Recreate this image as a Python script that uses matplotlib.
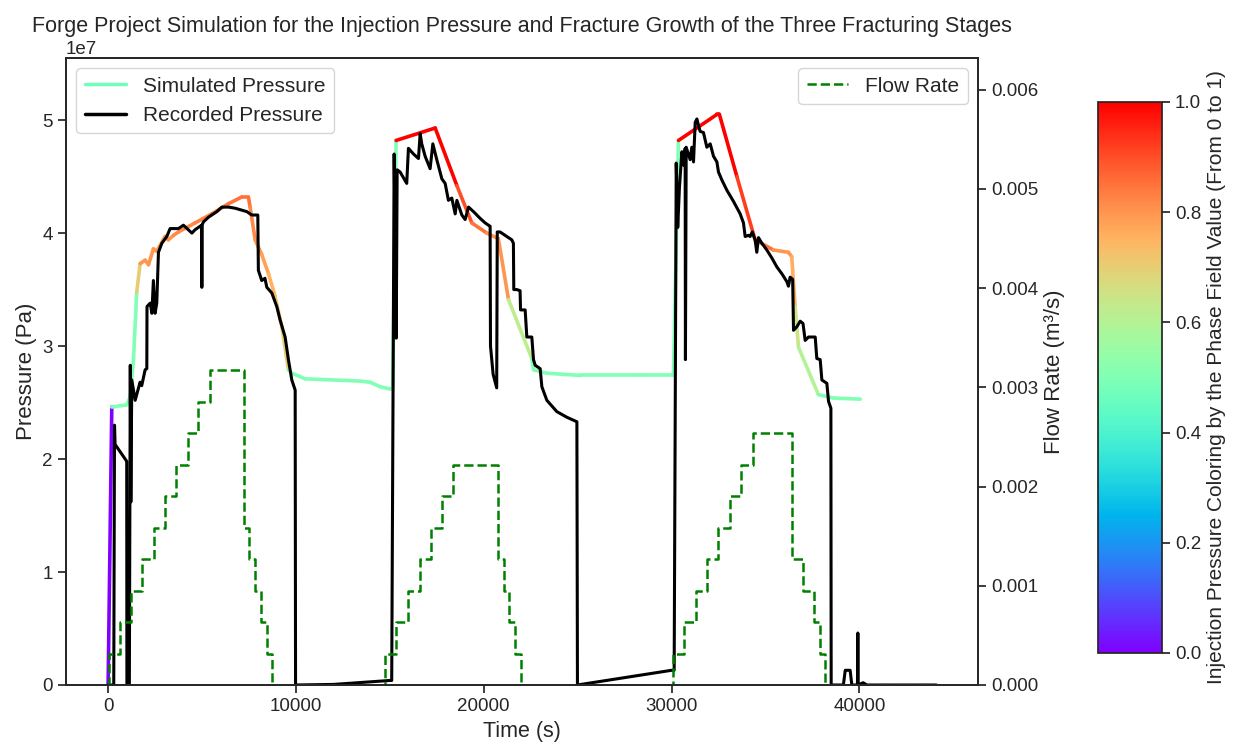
import numpy as np
import matplotlib.pyplot as plt
import seaborn as sns
from matplotlib.collections import LineCollection
from matplotlib.lines import Line2D
from matplotlib.cm import ScalarMappable

sns.set_theme(style="ticks")
plt.rcParams['font.family'] = ['Liberation Sans', 'DejaVu Sans']

# simulated pressure (1e6 Pa) with phase field value at each point
sim_time = [0, 195, 995, 1170, 1350, 1525, 1705, 1970, 2150, 2410, 2590, 3035, 3210, 3480,
            3745, 4630, 5520, 6410, 7120, 7470, 7560, 7830, 8180, 8540, 8890, 9250, 9600,
            9780, 10490, 13420, 13950, 14485, 15015, 15150, 15335, 17415, 18570, 19365,
            20165, 20780, 21320, 22560, 22650, 23360, 25135, 28330, 30100, 30370, 32415,
            32550, 33480, 34450, 35430, 36225, 36400, 36580, 36760, 37820, 38620, 40045]
sim_press = [0, 24.6, 24.8, 25.5, 28.8, 34.8, 37.3, 37.6, 37.2, 38.6, 38.4, 39.7, 39.4, 39.8,
             40.1, 40.9, 41.7, 42.6, 43.2, 43.2, 42.3, 39.4, 38.1, 36.4, 34.4, 31.7, 27.9,
             27.6, 27.1, 26.9, 26.8, 26.4, 26.2, 26.3, 48.2, 49.3, 44.2, 40.9,
             40.0, 39.5, 34.1, 28.9, 27.9, 27.6, 27.4, 27.4, 27.4, 48.2, 50.5,
             50.5, 45.0, 39.4, 38.5, 38.3, 37.9, 33.5, 29.9, 25.7, 25.4, 25.3]
sim_phase = [0.0, 0.5, 0.5, 0.5, 0.5, 0.7, 0.8, 0.8, 0.8, 0.8, 0.8, 0.8, 0.8, 0.82,
             0.82, 0.83, 0.84, 0.85, 0.85, 0.85, 0.82, 0.8, 0.78, 0.75, 0.72, 0.7, 0.5,
             0.5, 0.5, 0.5, 0.5, 0.5, 0.5, 0.5, 1.0, 1.0, 0.9, 0.85,
             0.8, 0.8, 0.62, 0.5, 0.5, 0.5, 0.5, 0.5, 0.5, 1.0, 1.0,
             1.0, 0.92, 0.85, 0.8, 0.8, 0.76, 0.65, 0.6, 0.5, 0.5, 0.5]

# recorded pressure (1e6 Pa)
rec_time = [0, 300, 340, 370, 990, 1000, 1130, 1180, 1210, 1260, 1440, 1700, 1790, 1970, 2060,
            2070, 2240, 2330, 2410, 2500, 2590, 2680, 2860, 3125, 3300, 3745, 4010, 4460,
            4630, 4980, 4990, 5000, 5080, 5340, 5790, 6055, 6410, 6765, 7385, 7650, 7970,
            8000, 8180, 8350, 8450, 8715, 8980, 9160, 9425, 9600, 9780, 9960, 9980, 12000,
            15000, 15100, 15230, 15340, 15390, 15550, 15900, 15990, 16260, 16525, 16615,
            16700, 16880, 17145, 17290, 17500, 17770, 17945, 18120, 18300, 18480, 18570,
            18835, 19010, 19190, 19455, 19810, 20075, 20340, 20360, 20500, 20690, 20720,
            20870, 21140, 21495, 21580, 21600, 21760, 21935, 21960, 22205, 22295, 22560,
            22650, 22740, 23005, 23095, 23360, 23890, 24425, 24960, 24990, 30000, 30140,
            30250, 30330, 30420, 30550, 30650, 30725, 30740, 30780, 30990, 31080, 31170,
            31260, 31350, 31440, 31525, 31700, 31880, 32060, 32235, 32415, 32500, 32680,
            32945, 33300, 33655, 33830, 33920, 34100, 34185, 34300, 34450, 34540, 34630,
            34810, 35075, 35340, 35610, 35875, 36140, 36225, 36315, 36450, 36495, 36670,
            36850, 37000, 37115, 37295, 37650, 37735, 37915, 38005, 38270, 38360, 38485,
            38500, 39150, 39250, 39510, 39600, 39900, 39920, 39940, 40200, 40400, 44100]
rec_press = [0, 0, 23.0, 21.3, 19.8, 0, 0, 28.3, 16.2, 27.0, 25.2, 26.8, 26.5, 27.9, 28.0,
             33.5, 33.8, 32.9, 35.8, 32.9, 33.8, 38.3, 39.1, 39.7, 40.4, 40.4, 40.7, 40.0,
             40.3, 40.7, 35.2, 40.7, 41.0, 41.4, 41.9, 42.3, 42.3, 42.2, 41.9, 41.6, 41.6,
             36.7, 35.8, 36.0, 35.2, 34.7, 33.5, 32.3, 30.8, 28.8, 27.0, 26.1, 0, 0.05,
             0.4, 0.4, 47.0, 30.7, 45.6, 45.4, 44.4, 47.5, 47.0, 46.6, 48.8,
             47.9, 46.8, 45.7, 47.9, 46.5, 44.8, 44.4, 42.9, 43.1, 41.7, 42.9,
             41.6, 41.2, 42.3, 41.9, 41.3, 40.9, 40.6, 30.0, 27.5, 26.3, 40.1,
             40.1, 39.8, 39.4, 39.1, 35.0, 35.0, 34.9, 33.2, 33.2, 30.8, 30.8,
             28.8, 28.3, 28.0, 26.4, 25.2, 24.2, 23.7, 23.3, 0, 1.3, 1.3,
             46.2, 40.5, 44.0, 47.2, 46.0, 47.5, 28.8, 47.6, 46.5, 47.6, 46.3,
             49.8, 50.1, 49.5, 49.0, 48.9, 47.6, 47.9, 46.8, 46.3, 45.4, 44.7,
             43.8, 42.8, 41.7, 40.9, 39.7, 39.8, 39.7, 40.1, 39.4, 38.3, 39.6,
             39.1, 38.5, 37.8, 37.0, 36.4, 35.7, 35.3, 36.1, 35.9, 31.4, 31.7,
             32.2, 32.0, 30.5, 30.8, 30.8, 28.9, 28.8, 27.0, 26.7, 25.1, 24.5,
             0, 0, 1.3, 1.3, 0, 0, 4.6, 0, 0.2, 0, 0]

# injection flow rate (m3/s), stepped
flow_time = [0, 60, 640, 1230, 1830, 2450, 3035, 3620, 4245, 4810, 5430, 7240, 7525, 7830,
             8130, 8450, 8750, 14750, 15335, 15950, 16580, 17185, 17770, 18355, 20780, 21090,
             21370, 21670, 21975, 30100, 30670, 31290, 31880, 32500, 33120, 33700, 34330,
             36405, 36990, 37600, 37880, 38180, 44100]
flow_rate = [0, 0.000317, 0.000634, 0.000951, 0.001268, 0.001585, 0.001902, 0.002219,
             0.002536, 0.002853, 0.00317, 0.001585, 0.001268, 0.000951, 0.000634, 0.000317,
             0, 0.000317, 0.000634, 0.000951, 0.001268, 0.001585, 0.001902, 0.002219,
             0.001268, 0.000951, 0.000634, 0.000317, 0, 0.000317, 0.000634, 0.000951,
             0.001268, 0.001585, 0.001902, 0.002219, 0.002536, 0.001268, 0.000951,
             0.000634, 0.000317, 0, 0]

cmap = plt.get_cmap('rainbow')
norm = plt.Normalize(0, 1)

fig = plt.figure(figsize=(12.44, 7.51), dpi=100)
ax = fig.add_axes([0.0531, 0.0879, 0.7331, 0.8349])

pts = np.column_stack([sim_time, np.array(sim_press) * 1e6])
segs = np.stack([pts[:-1], pts[1:]], axis=1)
lc = LineCollection(segs, cmap=cmap, norm=norm, linewidth=2.6, capstyle='round', joinstyle='round')
lc.set_array(np.array(sim_phase[:-1]))
ax.add_collection(lc)

ax.plot(rec_time, np.array(rec_press) * 1e6, color='black', lw=2.2)

ax.set_xlim(-2240, 46320)
ax.set_ylim(0, 5.55e7)
ax.set_xlabel("Time (s)", fontsize=15.5)
ax.set_ylabel("Pressure (Pa)", fontsize=16)
ax.tick_params(labelsize=13.5)
ax.yaxis.get_offset_text().set_fontsize(13.5)
ax.set_title("Forge Project Simulation for the Injection Pressure and Fracture Growth of the Three Fracturing Stages",
             fontsize=15.5)

handles = [Line2D([], [], color=cmap(0.47), lw=2.5), Line2D([], [], color='black', lw=2.5)]
ax.legend(handles, ["Simulated Pressure", "Recorded Pressure"], loc='upper left', fontsize=15)

ax2 = ax.twinx()
ax2.step(flow_time, flow_rate, where='post', color='green', ls='--', lw=1.8, label='Flow Rate')
ax2.set_ylim(0, 0.00632)
ax2.set_ylabel("Flow Rate (m³/s)", fontsize=16)
ax2.tick_params(labelsize=13.5)
ax2.legend(loc='upper right', fontsize=15)

cax = fig.add_axes([0.8826, 0.1305, 0.0514, 0.7337])
sm = ScalarMappable(norm=norm, cmap=cmap)
cb = fig.colorbar(sm, cax=cax)
cb.set_label("Injection Pressure Coloring by the Phase Field Value (From 0 to 1)", fontsize=15)
cb.ax.tick_params(labelsize=13.5)
cb.outline.set_linewidth(1.25)

fig.savefig("out.png", dpi=100)
